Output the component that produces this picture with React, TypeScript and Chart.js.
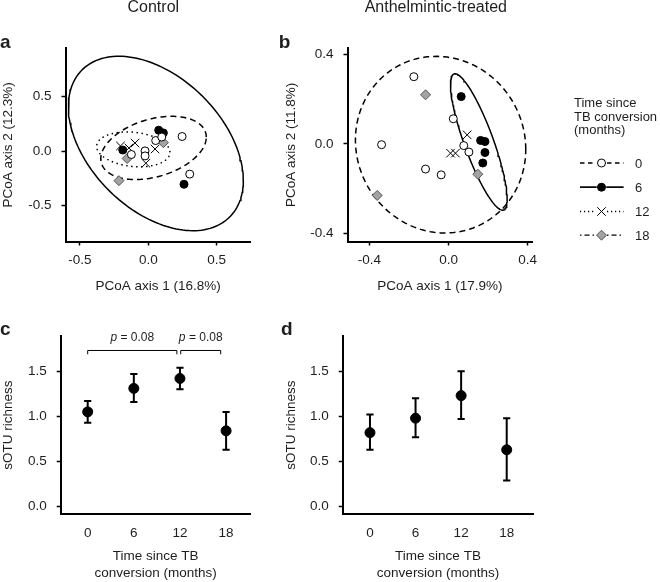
import React, { useEffect, useRef } from "react";
import { Chart, registerables } from "chart.js";

Chart.register(...registerables);

const FONT = '"Liberation Sans", Arial, Helvetica, sans-serif';
const TEXT = "#1e1e1e";

// ---------------- DATA ----------------
// Time since TB conversion (months) groups
const groups = ["0", "6", "12", "18"];

// Panel a: Control, PCoA scores (axis 1, axis 2)
const aX0 = [0.247, 0.054, 0.098, -0.024, -0.024, -0.124, 0.303];
const aY0 = [0.135, 0.098, 0.13, 0.003, -0.043, -0.03, -0.21];
const aX6 = [0.076, 0.11, -0.187, 0.261];
const aY6 = [0.193, 0.168, 0.011, -0.303];
const aX12 = [-0.204, -0.097, -0.142, 0.049, -0.018];
const aY12 = [0.048, 0.075, 0.03, 0.02, -0.11];
const aX18 = [0.11, -0.155, -0.215];
const aY18 = [0.078, -0.067, -0.27];
// ellipses: [centre x, centre y, half-width, half-height, phase deg]
const aEll0 = [0.038, 0.03, 0.386, 0.29, 70];
const aEll6 = [0.055, 0.071, 0.64, 0.8, 115];
const aEll12 = [-0.11, 0.017, 0.268, 0.16, 100];

// Panel b: Anthelmintic-treated, PCoA scores
const bX0 = [-0.175, 0.024, -0.338, -0.116, -0.037, 0.077, 0.103];
const bY0 = [0.3, 0.112, -0.004, -0.113, -0.139, -0.008, -0.037];
const bX6 = [0.064, 0.162, 0.184, 0.184, 0.173];
const bY6 = [0.211, 0.015, 0.01, -0.039, -0.086];
const bX12 = [0.094, 0.01, 0.035];
const bY12 = [0.04, -0.042, -0.042];
const bX18 = [-0.116, 0.148, -0.36];
const bY18 = [0.219, -0.136, -0.231];
const bEll0 = [-0.04, -0.004, 0.43, 0.395, 93];
const bEll6 = [0.153, 0.008, 0.143, 0.305, 147];

// Panels c, d: sOTU richness (mean and error bar ends)
const months = [0, 6, 12, 18];
const cMean = [1.05, 1.31, 1.42, 0.84];
const cLow = [0.93, 1.16, 1.3, 0.63];
const cHigh = [1.17, 1.47, 1.54, 1.05];
const dMean = [0.82, 0.98, 1.23, 0.63];
const dLow = [0.63, 0.77, 0.97, 0.29];
const dHigh = [1.02, 1.2, 1.5, 0.98];
// significance brackets in panel c
const cBracketFrom = [0, 12.1];
const cBracketTo = [11.6, 17.3];
const cBracketY = [1.73, 1.73];
const cBracketP = ["0.08", "0.08"];

// tick values and axis ranges
const aTicks = [-0.5, 0, 0.5];
const bTicks = [-0.4, 0, 0.4];
const richTicks = [0, 0.5, 1, 1.5];
const aXRange = [-0.606, 0.749];
const aYRange = [-0.828, 0.944];
const bXRange = [-0.51, 0.423];
const bYRange = [-0.437, 0.427];
const cXRange = [-3.51, 21.2];
const dXRange = [-3.59, 21.5];
const richRange = [-0.081, 1.887];

// ---------------- LAYOUT ----------------
const W = 660;
const H = 582;
const PA = { L: 65.5, R: 250.7, T: 48.3, B: 241.5, yW: 65.3, xH: 53.3 };
const PB = { L: 347.5, R: 532.3, T: 48.3, B: 241.5, yW: 64.8, xH: 53.3 };
const PC = { L: 60.7, R: 250.7, T: 336.3, B: 514, yW: 60.5, xH: 68 };
const PD = { L: 342.7, R: 533.3, T: 336.3, B: 514, yW: 59.1, xH: 68 };

const styles: Record<string, any> = {
  "0": { pointStyle: "circle", r: 4, bg: "#ffffff", bd: "#000", bw: 1, dash: [6, 4], lw: 1.5 },
  "6": { pointStyle: "circle", r: 4, bg: "#000000", bd: "#000", bw: 1, dash: [], lw: 1.5 },
  "12": { pointStyle: "crossRot", r: 6, bg: "#000", bd: "#000", bw: 1, dash: [1.5, 3.5], lw: 1.5 },
  "18": { pointStyle: "rectRot", r: 5, bg: "#a3a3a3", bd: "#555", bw: 1, dash: [1.5, 3, 5, 3], lw: 1.5 },
};

function ellipsePoints(e: number[]) {
  const [cx, cy, hx, hy, deg] = e;
  const d = (deg * Math.PI) / 180;
  const pts: { x: number; y: number }[] = [];
  const n = 160;
  for (let i = 0; i <= n; i++) {
    const t = (i / n) * 2 * Math.PI;
    pts.push({ x: cx + hx * Math.cos(t), y: cy + hy * Math.cos(t - d) });
  }
  return pts;
}

function pointSet(xs: number[], ys: number[], g: string) {
  const s = styles[g];
  return {
    label: g,
    data: xs.map((x, i) => ({ x, y: ys[i] })),
    showLine: false,
    pointStyle: s.pointStyle,
    pointRadius: s.r,
    pointBackgroundColor: s.bg,
    pointBorderColor: s.bd,
    pointBorderWidth: s.bw,
    order: 0,
  };
}

function ellipseSet(e: number[], g: string) {
  const s = styles[g];
  return {
    label: g + " ellipse",
    data: ellipsePoints(e),
    showLine: true,
    pointRadius: 0,
    borderColor: "#000",
    borderWidth: s.lw,
    borderDash: s.dash,
    fill: false,
    tension: 0,
    order: 1,
  };
}

function linAxis(o: {
  range: number[];
  ticks: number[];
  dec: number;
  title: string | string[];
  size: number;
  horizontal: boolean;
  tickLen: number;
  tickColor: string;
  pad: number;
  titleLH?: number;
}) {
  return {
    type: "linear",
    min: o.range[0],
    max: o.range[1],
    afterBuildTicks: (s: any) => {
      s.ticks = o.ticks.map((v) => ({ value: v }));
    },
    afterFit: (s: any) => {
      if (o.horizontal) s.height = o.size;
      else s.width = o.size;
    },
    ticks: {
      callback: (v: any) => Number(v).toFixed(o.dec),
      font: { family: FONT, size: 13.5 },
      color: TEXT,
      padding: o.pad,
      autoSkip: false,
      maxRotation: 0,
      minRotation: 0,
    },
    grid: {
      display: true,
      drawOnChartArea: false,
      drawTicks: true,
      tickLength: o.tickLen,
      tickWidth: 1.5,
      tickColor: o.tickColor,
    },
    border: { display: true, color: "#000", width: 2 },
    title: {
      display: true,
      text: o.title,
      color: TEXT,
      padding: 0,
      font: { family: FONT, size: 13.5, lineHeight: o.titleLH ?? 1.2 },
    },
  };
}

function padFor(p: any) {
  return { left: p.L - p.yW, right: W - p.R, top: p.T, bottom: Math.max(0, H - p.B - p.xH) };
}

function baseOptions(p: any, xAxis: any, yAxis: any) {
  return {
    responsive: false,
    animation: false,
    events: [],
    layout: { padding: padFor(p) },
    plugins: { legend: { display: false }, tooltip: { enabled: false } },
    scales: { x: xAxis, y: yAxis },
  };
}

// legend (drawn on panel b's canvas)
const LEG_X0 = 580;
const LEG_X1 = 623.5;
const LEG_MX = 601.5;
const LEG_Y = [163, 187.2, 211.5, 235.2];

function drawMarker(ctx: CanvasRenderingContext2D, g: string, x: number, y: number) {
  const s = styles[g];
  ctx.save();
  ctx.setLineDash([]);
  ctx.lineWidth = s.bw;
  ctx.strokeStyle = s.bd;
  ctx.fillStyle = s.bg;
  ctx.beginPath();
  if (s.pointStyle === "circle") {
    ctx.arc(x, y, s.r, 0, Math.PI * 2);
    ctx.fill();
    ctx.stroke();
  } else if (s.pointStyle === "crossRot") {
    const o = s.r * Math.SQRT1_2;
    ctx.moveTo(x - o, y - o);
    ctx.lineTo(x + o, y + o);
    ctx.moveTo(x + o, y - o);
    ctx.lineTo(x - o, y + o);
    ctx.stroke();
  } else {
    ctx.moveTo(x - s.r, y);
    ctx.lineTo(x, y - s.r);
    ctx.lineTo(x + s.r, y);
    ctx.lineTo(x, y + s.r);
    ctx.closePath();
    ctx.fill();
    ctx.stroke();
  }
  ctx.restore();
}

const legendPlugin = {
  id: "timeLegend",
  afterDraw(chart: any) {
    const ctx: CanvasRenderingContext2D = chart.ctx;
    groups.forEach((g, i) => {
      const s = styles[g];
      const y = LEG_Y[i];
      ctx.save();
      ctx.strokeStyle = "#000";
      ctx.lineWidth = 1.3;
      ctx.setLineDash(g === "0" ? [4.5, 3.5] : g === "12" ? [1.2, 2.8] : s.dash);
      ctx.beginPath();
      ctx.moveTo(LEG_X0, y);
      ctx.lineTo(LEG_MX - 5.5, y);
      ctx.stroke();
      ctx.beginPath();
      ctx.moveTo(LEG_MX + 5.5, y);
      ctx.lineTo(LEG_X1, y);
      ctx.stroke();
      if (g === "6") {
        ctx.setLineDash([]);
        ctx.beginPath();
        ctx.moveTo(LEG_X0, y);
        ctx.lineTo(LEG_X1, y);
        ctx.stroke();
      }
      ctx.restore();
      drawMarker(ctx, g, LEG_MX, y);
    });
  },
};

function errorBarPlugin(xs: number[], lo: number[], hi: number[]) {
  return {
    id: "errbars",
    beforeDatasetsDraw(chart: any) {
      const { ctx, scales } = chart;
      ctx.save();
      ctx.strokeStyle = "#000";
      ctx.lineWidth = 2;
      xs.forEach((m, i) => {
        const px = scales.x.getPixelForValue(m);
        const y1 = scales.y.getPixelForValue(lo[i]);
        const y2 = scales.y.getPixelForValue(hi[i]);
        ctx.beginPath();
        ctx.moveTo(px, y1);
        ctx.lineTo(px, y2);
        ctx.moveTo(px - 3.6, y1);
        ctx.lineTo(px + 3.6, y1);
        ctx.moveTo(px - 3.6, y2);
        ctx.lineTo(px + 3.6, y2);
        ctx.stroke();
      });
      ctx.restore();
    },
  };
}

const bracketPlugin = {
  id: "brackets",
  afterDraw(chart: any) {
    const { ctx, scales } = chart;
    ctx.save();
    ctx.strokeStyle = "#000";
    ctx.lineWidth = 1;
    cBracketFrom.forEach((f, i) => {
      const x1 = scales.x.getPixelForValue(f);
      const x2 = scales.x.getPixelForValue(cBracketTo[i]);
      const yb = scales.y.getPixelForValue(cBracketY[i]);
      ctx.beginPath();
      ctx.moveTo(x1, yb + 3.8);
      ctx.lineTo(x1, yb);
      ctx.lineTo(x2, yb);
      ctx.lineTo(x2, yb + 3.8);
      ctx.stroke();
      const mid = (x1 + x2) / 2;
      const pFont = `italic 12px ${FONT}`;
      const rFont = `12px ${FONT}`;
      const rest = " = " + cBracketP[i];
      ctx.font = pFont;
      const wp = ctx.measureText("p").width;
      ctx.font = rFont;
      const wr = ctx.measureText(rest).width;
      const start = mid - (wp + wr) / 2;
      const base = yb - 9.7;
      ctx.fillStyle = TEXT;
      ctx.textBaseline = "alphabetic";
      ctx.textAlign = "left";
      ctx.font = pFont;
      ctx.fillText("p", start, base);
      ctx.font = rFont;
      ctx.fillText(rest, start + wp, base);
    });
    ctx.restore();
  },
};

function pcoaConfig(
  p: any,
  xs: number[][],
  ys: number[][],
  ells: (number[] | null)[],
  xRange: number[],
  yRange: number[],
  ticks: number[],
  xTitle: string,
  yTitle: string,
  plugins: any[]
) {
  const datasets: any[] = [];
  groups.forEach((g, i) => datasets.push(pointSet(xs[i], ys[i], g)));
  groups.forEach((g, i) => {
    const e = ells[i];
    if (e) datasets.push(ellipseSet(e, g));
  });
  const xA = linAxis({ range: xRange, ticks, dec: 1, title: xTitle, size: p.xH, horizontal: true, tickLen: 4, tickColor: "#000", pad: 7 });
  const yA = linAxis({ range: yRange, ticks, dec: 1, title: yTitle, size: p.yW, horizontal: false, tickLen: 4, tickColor: "#000", pad: 10 });
  return { type: "scatter", data: { datasets }, options: baseOptions(p, xA, yA), plugins };
}

function richConfig(p: any, xRange: number[], mean: number[], lo: number[], hi: number[], plugins: any[]) {
  const datasets = [
    {
      label: "mean",
      data: months.map((m, i) => ({ x: m, y: mean[i] })),
      showLine: false,
      pointStyle: "circle",
      pointRadius: 5,
      pointBackgroundColor: "#000",
      pointBorderColor: "#000",
      pointBorderWidth: 1,
    },
  ];
  const xA = linAxis({
    range: xRange,
    ticks: months,
    dec: 0,
    title: ["Time since TB", "conversion (months)"],
    size: p.xH,
    horizontal: true,
    tickLen: 4,
    tickColor: "rgba(0,0,0,0)",
    pad: 7,
    titleLH: 1.26,
  });
  const yA = linAxis({ range: richRange, ticks: richTicks, dec: 1, title: "sOTU richness", size: p.yW, horizontal: false, tickLen: 4, tickColor: "#000", pad: 10 });
  return {
    type: "scatter",
    data: { datasets },
    options: baseOptions(p, xA, yA),
    plugins: [errorBarPlugin(months, lo, hi), ...plugins],
  };
}

function ChartCanvas({ make }: { make: () => any }) {
  const ref = useRef<HTMLCanvasElement | null>(null);
  useEffect(() => {
    if (!ref.current) return;
    const chart = new Chart(ref.current, make());
    return () => chart.destroy();
  }, []);
  return <canvas ref={ref} width={W} height={H} style={{ position: "absolute", left: 0, top: 0, width: W, height: H }} />;
}

function Txt(props: { x: number; top: number; size: number; bold?: boolean; center?: boolean; children: any; lh?: number }) {
  const lh = props.lh ?? props.size;
  return (
    <div
      style={{
        position: "absolute",
        left: props.x,
        top: props.top,
        fontFamily: FONT,
        fontSize: props.size,
        fontWeight: props.bold ? "bold" : "normal",
        lineHeight: `${lh}px`,
        whiteSpace: "nowrap",
        color: TEXT,
        transform: props.center ? "translateX(-50%)" : undefined,
      }}
    >
      {props.children}
    </div>
  );
}

export default function App() {
  return (
    <div style={{ position: "absolute", left: 0, top: 0, width: W, height: H, overflow: "hidden", background: "#fff" }}>
      <ChartCanvas
        make={() =>
          pcoaConfig(PA, [aX0, aX6, aX12, aX18], [aY0, aY6, aY12, aY18], [aEll0, aEll6, aEll12, null], aXRange, aYRange, aTicks, "PCoA axis 1 (16.8%)", "PCoA axis 2 (12.3%)", [])
        }
      />
      <ChartCanvas
        make={() =>
          pcoaConfig(PB, [bX0, bX6, bX12, bX18], [bY0, bY6, bY12, bY18], [bEll0, bEll6, null, null], bXRange, bYRange, bTicks, "PCoA axis 1 (17.9%)", "PCoA axis 2 (11.8%)", [legendPlugin])
        }
      />
      <ChartCanvas make={() => richConfig(PC, cXRange, cMean, cLow, cHigh, [bracketPlugin])} />
      <ChartCanvas make={() => richConfig(PD, dXRange, dMean, dLow, dHigh, [])} />

      <Txt x={153.3} top={-0.85} size={16} center>
        Control
      </Txt>
      <Txt x={435.8} top={-0.85} size={16} center>
        Anthelmintic-treated
      </Txt>
      <Txt x={0} top={32.2} size={19} bold>
        a
      </Txt>
      <Txt x={278.7} top={32.2} size={19} bold>
        b
      </Txt>
      <Txt x={0} top={318.9} size={19} bold>
        c
      </Txt>
      <Txt x={281} top={318.9} size={19} bold>
        d
      </Txt>

      <Txt x={574} top={95.8} size={13} lh={13.8}>
        <div>Time since</div>
        <div>TB conversion</div>
        <div>(months)</div>
      </Txt>
      {groups.map((g, i) => (
        <Txt key={g} x={635} top={LEG_Y[i] - 6.35} size={13}>
          {g}
        </Txt>
      ))}
    </div>
  );
}
